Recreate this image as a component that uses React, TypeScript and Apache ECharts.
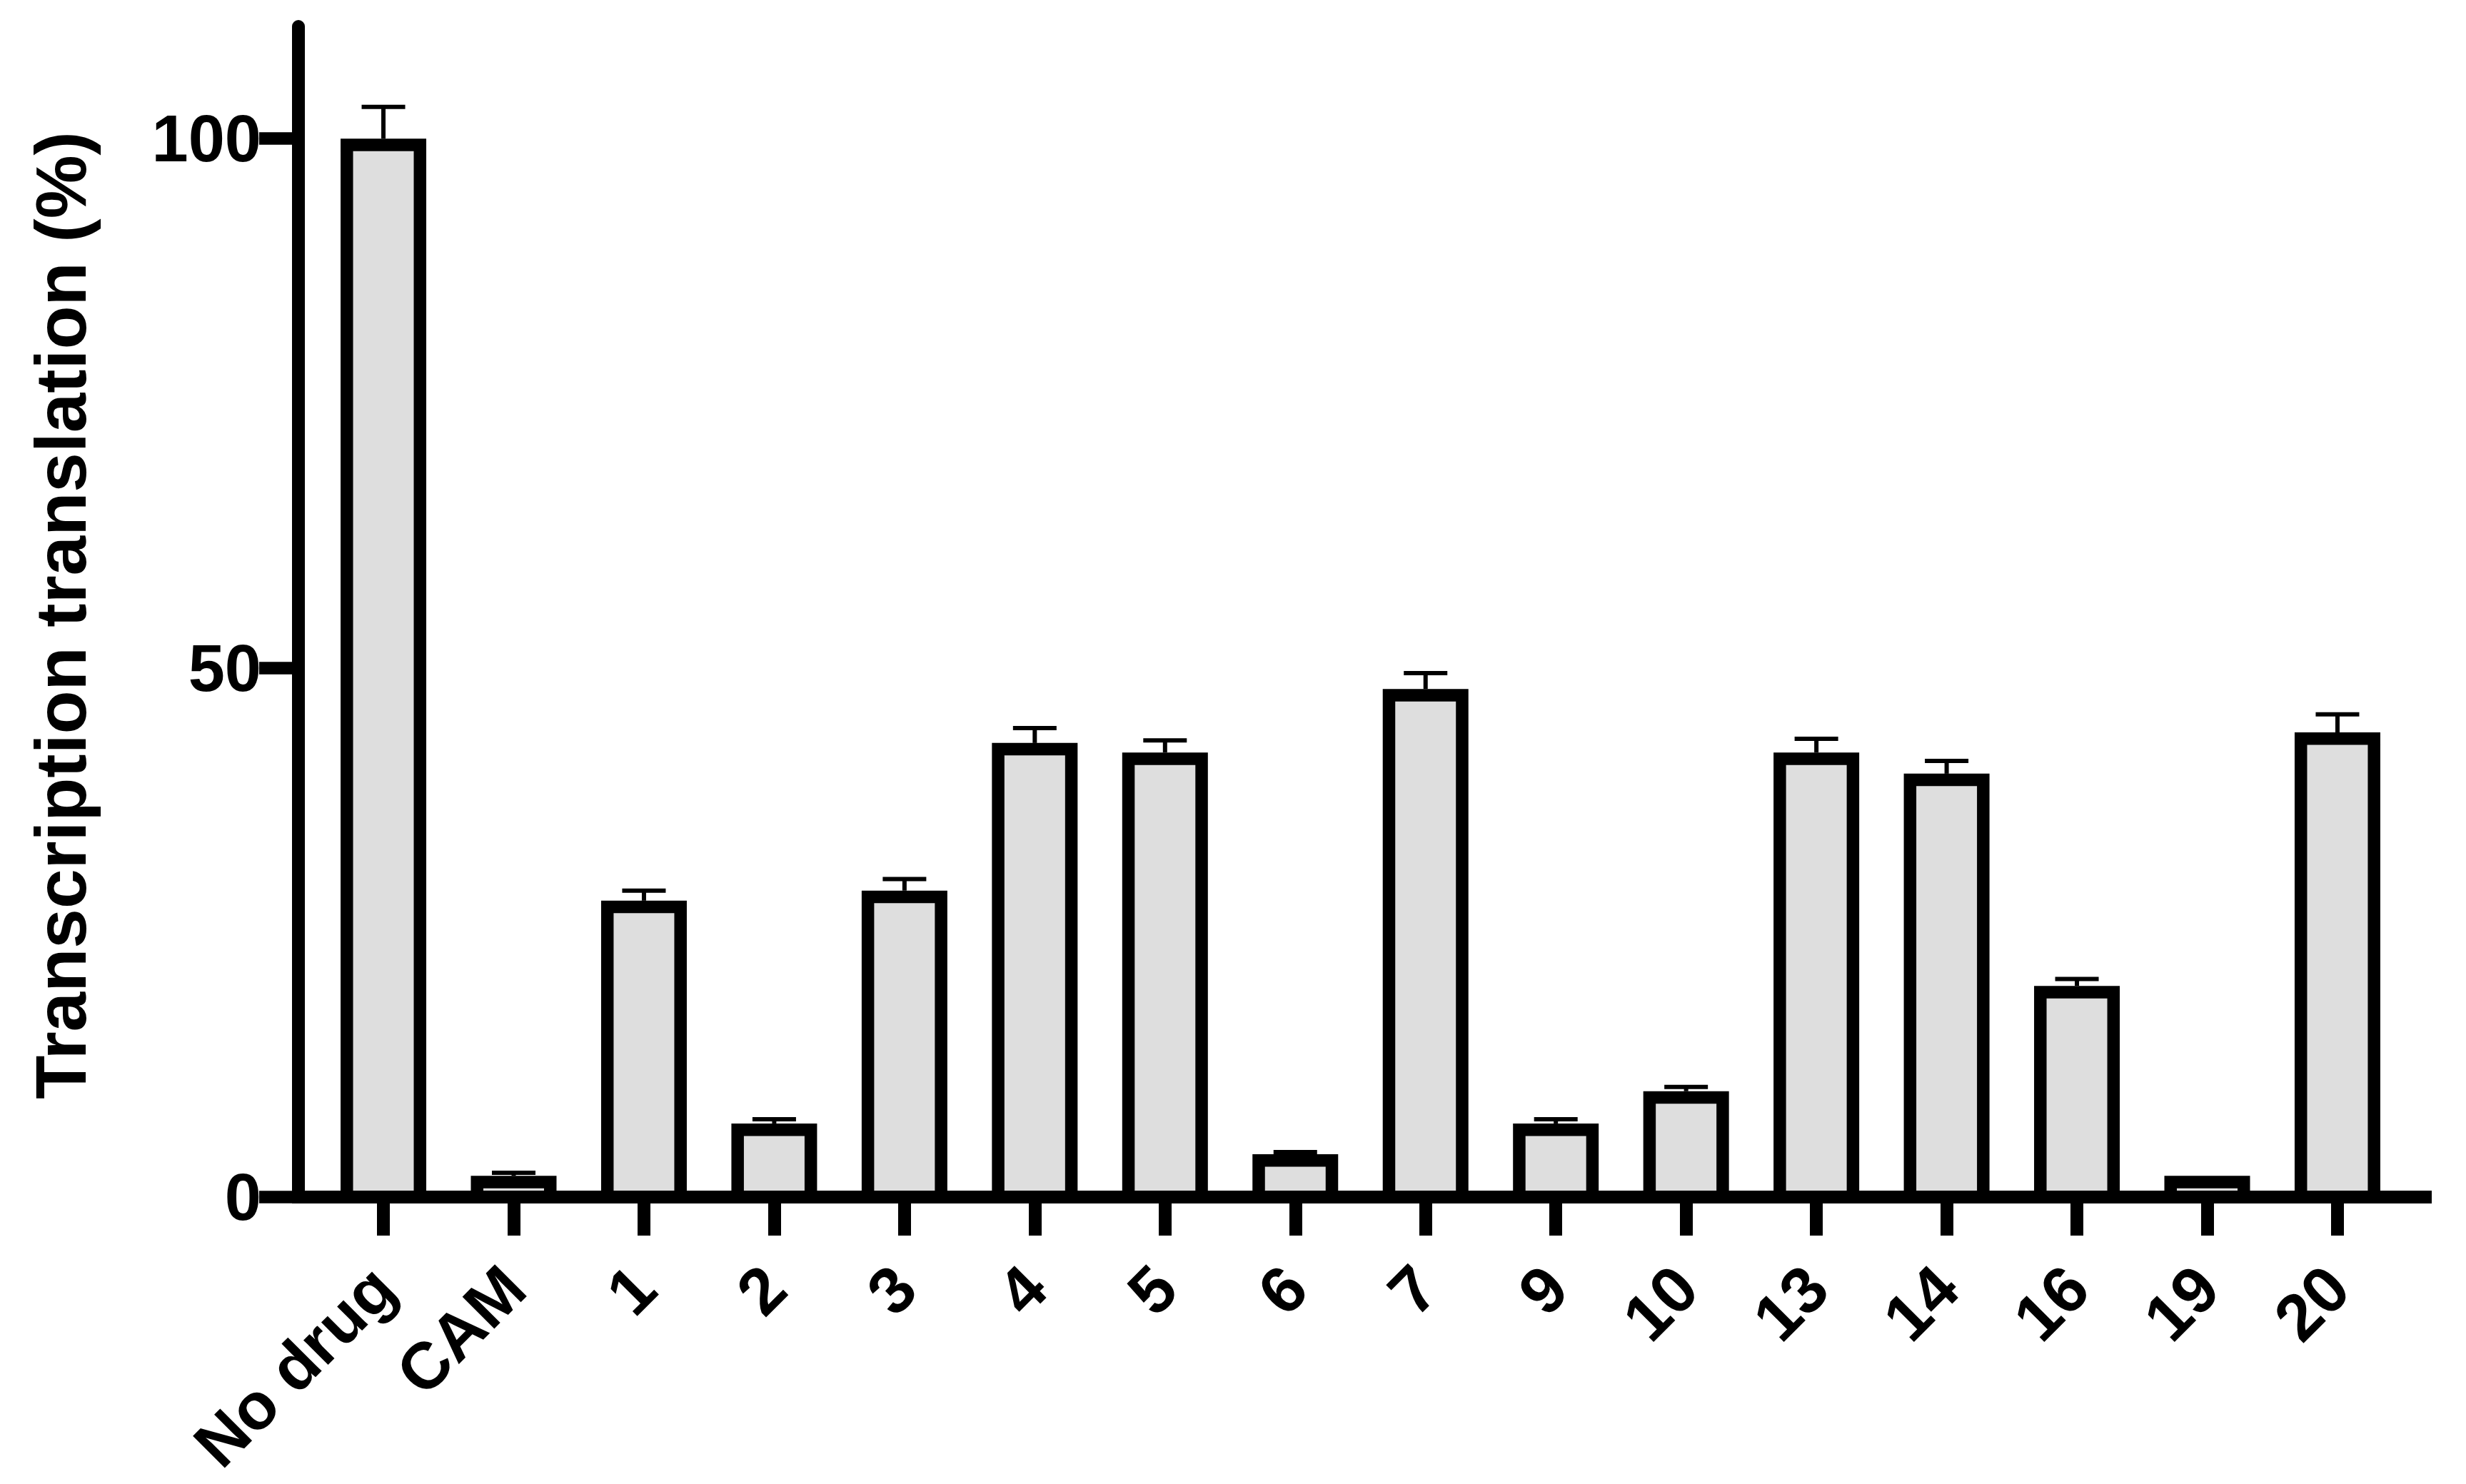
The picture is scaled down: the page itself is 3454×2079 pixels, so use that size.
import React, { useEffect, useRef } from "react";
import * as echarts from "echarts";

const categories = ["No drug", "CAM", "1", "2", "3", "4", "5", "6", "7", "9", "10", "13", "14", "16", "19", "20"];
const means = [100, 2.0, 28.0, 6.95, 28.95, 42.9, 42.0, 4.05, 48.0, 6.95, 10.0, 42.0, 40.0, 19.95, 2.0, 43.9];
const errors = [3.0, 0.3, 0.95, 0.4, 1.1, 1.4, 1.15, 0.2, 1.5, 0.4, 0.4, 1.3, 1.2, 0.65, 0, 1.7];
const yTicks = [0, 50, 100];
const yMin = 0;
const yMax = 110.6;
const yTitle = "Transcription translation (%)";

const FONT = '"Liberation Sans", Arial, sans-serif';

export default function App() {
  const ref = useRef<HTMLDivElement>(null);
  useEffect(() => {
    if (!ref.current) return;
    const chart = echarts.init(ref.current, undefined, { renderer: "svg" });
    const border = 17.5;
    const outerW = 120;
    const capW = 61;
    chart.setOption({
      animation: false,
      backgroundColor: "#ffffff",
      grid: { left: 445.8, right: 88.8, top: 37, bottom: 402, containLabel: false },
      xAxis: {
        type: "category",
        data: categories,
        boundaryGap: true,
        axisLine: { show: false },
        axisTick: {
          show: true,
          alignWithLabel: true,
          interval: 0,
          length: 54,
          lineStyle: { color: "#000", width: 18 },
        },
        axisLabel: {
          interval: 0,
          rotate: 45,
          margin: 112,
          color: "#000",
          fontSize: 92,
          fontWeight: "bold",
          fontFamily: FONT,
        },
        splitLine: { show: false },
      },
      yAxis: {
        type: "value",
        min: yMin,
        max: yMax,
        offset: 27.8,
        axisLine: { show: true, onZero: false, lineStyle: { color: "#000", width: 18 } },
        axisTick: { show: true, length: 55, customValues: yTicks, lineStyle: { color: "#000", width: 17.5 } },
        axisLabel: {
          customValues: yTicks,
          margin: 52,
          color: "#000",
          fontSize: 92,
          fontWeight: "bold",
          fontFamily: FONT,
        },
        splitLine: { show: false },
      },
      graphic: [
        {
          type: "line",
          z: 100,
          shape: { x1: 409, y1: 1677, x2: 3406, y2: 1677 },
          style: { stroke: "#000", lineWidth: 18 },
        },
        {
          type: "text",
          x: 85,
          y: 862,
          rotation: Math.PI / 2,
          style: {
            text: yTitle,
            fill: "#000",
            font: 'bold 100px "Liberation Sans", Arial, sans-serif',
            align: "center",
            verticalAlign: "middle",
            textAlign: "center",
            textVerticalAlign: "middle",
          },
        },
      ],
      series: [
        {
          type: "custom",
          clip: false,
          encode: { x: 0, y: 1 },
          data: means.map((m, i) => [i, m, errors[i]]),
          renderItem: (params: any, api: any) => {
            const i = api.value(0);
            const v = api.value(1);
            const e = api.value(2);
            const top = api.coord([i, v]);
            const base = api.coord([i, 0]);
            const cap = api.coord([i, v + e]);
            const cx = top[0];
            const children: any[] = [
              {
                type: "rect",
                shape: {
                  x: cx - outerW / 2 + border / 2,
                  y: top[1] + border / 2,
                  width: outerW - border,
                  height: Math.max(0, base[1] - top[1] - border / 2),
                },
                style: { fill: "#dedede", stroke: "#000", lineWidth: border },
              },
            ];
            if (e > 0) {
              children.push({
                type: "line",
                shape: { x1: cx, y1: top[1], x2: cx, y2: cap[1] },
                style: { stroke: "#000", lineWidth: 6 },
              });
              children.push({
                type: "line",
                shape: { x1: cx - capW / 2, y1: cap[1], x2: cx + capW / 2, y2: cap[1] },
                style: { stroke: "#000", lineWidth: 6 },
              });
            }
            return { type: "group", children };
          },
        },
      ],
    });
    return () => chart.dispose();
  }, []);
  return (
    <div
      ref={ref}
      style={{ position: "fixed", left: 0, top: 0, width: 3454, height: 2079, background: "#fff" }}
    />
  );
}
